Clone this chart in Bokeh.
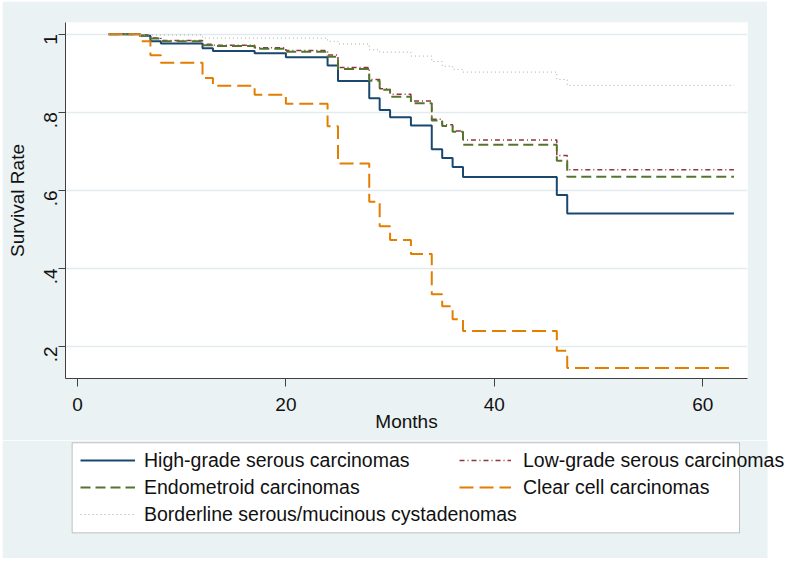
import math
from bokeh.plotting import figure
from bokeh.models import FixedTicker, Range1d, Legend, LegendItem, BoxAnnotation
from bokeh.embed import file_html
from bokeh.resources import INLINE

# ---- data ----
hg_months = [3, 6, 7, 8, 12, 13, 17, 20, 24, 25, 28, 29, 30, 32, 34, 35, 36, 37, 46, 47, 63]
hg_surv = [1, 0.996, 0.982, 0.976, 0.964, 0.957, 0.951, 0.941, 0.92, 0.88, 0.836, 0.806, 0.787,
           0.766, 0.705, 0.683, 0.66, 0.634, 0.588, 0.541, 0.541]

lg_months = [3, 6, 7, 8, 12, 13, 17, 20, 24, 25, 28, 29, 30, 32, 34, 35, 36, 37, 46, 47, 63]
lg_surv = [1, 0.998, 0.99, 0.984, 0.974, 0.972, 0.965, 0.958, 0.947, 0.915, 0.884, 0.86, 0.846,
           0.829, 0.782, 0.768, 0.752, 0.729, 0.689, 0.653, 0.653]

en_months = [3, 6, 7, 8, 12, 13, 17, 20, 24, 25, 28, 29, 30, 32, 34, 35, 36, 37, 46, 47, 63]
en_surv = [1, 0.997, 0.989, 0.982, 0.972, 0.97, 0.963, 0.955, 0.942, 0.911, 0.881, 0.858, 0.84,
           0.823, 0.779, 0.765, 0.75, 0.717, 0.676, 0.635, 0.635]

cc_months = [3, 6, 7, 8, 12, 13, 17, 20, 24, 25, 28, 29, 30, 32, 34, 35, 36, 37, 46, 47, 63]
cc_surv = [1, 0.982, 0.946, 0.927, 0.888, 0.868, 0.845, 0.822, 0.764, 0.669, 0.571, 0.508, 0.473,
           0.437, 0.334, 0.303, 0.27, 0.24, 0.189, 0.145, 0.145]

bl_months = [3, 6, 12, 24, 25, 28, 29, 32, 34, 35, 36, 37, 46, 47, 63]
bl_surv = [1, 0.998, 0.99, 0.982, 0.975, 0.96, 0.954, 0.944, 0.93, 0.918, 0.91, 0.903, 0.884,
           0.869, 0.869]

labels = ["High-grade serous carcinomas", "Low-grade serous carcinomas",
          "Endometroid carcinomas", "Clear cell carcinomas",
          "Borderline serous/mucinous cystadenomas"]

x_ticks = [0, 20, 40, 60]
y_ticks = [0.2, 0.4, 0.6, 0.8, 1]
y_tick_labels = [".2", ".4", ".6", ".8", "1"]

FONT = "Liberation Sans"
BG = "#eaf2f3"
TXT = "#111111"

styles = {
    "hg": dict(line_color="#1a476f", line_width=2),
    "lg": dict(line_color="#90353b", line_width=1.5, line_dash="5 3 1 3"),
    "en": dict(line_color="#55752f", line_width=2, line_dash="10 5"),
    "cc": dict(line_color="#e37e00", line_width=2, line_dash="14 6"),
    "bl": dict(line_color="#a8a8a8", line_width=1, line_dash="1 3"),
}
series = {
    "hg": (hg_months, hg_surv),
    "lg": (lg_months, lg_surv),
    "en": (en_months, en_surv),
    "cc": (cc_months, cc_surv),
    "bl": (bl_months, bl_surv),
}

# ---------------- main plot ----------------
p = figure(frame_width=682, frame_height=356,
           min_border_left=63, min_border_right=20, min_border_top=21, min_border_bottom=62,
           x_range=Range1d(-1.15, 64.3), y_range=Range1d(0.118, 1.030),
           output_backend="svg", toolbar_location=None,
           border_fill_color=BG, background_fill_color="white")
p.outline_line_color = None
p.margin = (1, 0, 0, 2)

for ax in (p.xaxis[0], p.yaxis[0]):
    ax.axis_line_color = "#404040"
    ax.major_tick_line_color = "#404040"
    ax.major_tick_in = 0
    ax.minor_tick_line_color = None
    ax.major_label_text_font = FONT
    ax.major_label_text_font_size = "19px"
    ax.major_label_text_color = TXT
    ax.axis_label_text_font = FONT
    ax.axis_label_text_font_size = "19px"
    ax.axis_label_text_font_style = "normal"
    ax.axis_label_text_color = TXT

p.xaxis.ticker = FixedTicker(ticks=x_ticks)
p.xaxis.major_tick_out = 8
p.xaxis.major_label_standoff = 11
p.xaxis.axis_label = "Months"
p.xaxis.axis_label_standoff = -3

p.yaxis.ticker = FixedTicker(ticks=y_ticks)
p.yaxis.major_label_overrides = dict(zip(y_ticks, y_tick_labels))
p.yaxis.major_tick_out = 7
p.yaxis.major_label_standoff = 8
p.yaxis.major_label_orientation = math.pi / 2
p.yaxis.axis_label = "Survival Rate"
p.yaxis.axis_label_standoff = 7

p.xgrid.visible = False
p.ygrid.grid_line_color = "#e2ecee"
p.ygrid.grid_line_width = 1.5

for k in ("hg", "lg", "en", "cc", "bl"):
    xs, ys = series[k]
    p.step(xs, ys, mode="after", **styles[k])

# ---------------- legend panel (separate root, no frame alignment) ----------------
LW, LH = 785, 118
q = figure(width=LW, height=LH, x_range=Range1d(0, LW), y_range=Range1d(LH, 0),
           x_axis_type=None, y_axis_type=None,
           min_border=0, min_border_left=0, min_border_right=0, min_border_top=0,
           min_border_bottom=0,
           output_backend="svg", toolbar_location=None,
           border_fill_color="white", background_fill_color="white")
q.outline_line_color = None
q.margin = (0, 0, 0, 2)
q.grid.visible = False

q.add_layout(BoxAnnotation(left=0, right=765, fill_color=BG, fill_alpha=1,
                           line_color=None, level="underlay"))
q.add_layout(BoxAnnotation(left=69.7, right=737, top=2.3, bottom=92.3,
                           fill_color="white", fill_alpha=1,
                           line_color="#444444", line_width=1, level="underlay"))

# hidden copies of the series, used only to draw the legend keys
d = {}
for k in ("hg", "lg", "en", "cc", "bl"):
    xs, ys = series[k]
    d[k] = q.line(xs, ys, visible=False, **styles[k])

common = dict(border_line_color=None, background_fill_alpha=0, padding=0, margin=0,
              spacing=3, label_height=24, glyph_height=24,
              label_text_font=FONT, label_text_font_size="19.5px",
              label_text_color=TXT, orientation="vertical")

leg1 = Legend(items=[LegendItem(label=labels[0], renderers=[d["hg"]]),
                     LegendItem(label=labels[2], renderers=[d["en"]]),
                     LegendItem(label=labels[4], renderers=[d["bl"]])],
              location=(78, 32), glyph_width=55, label_standoff=9, **common)
leg2 = Legend(items=[LegendItem(label=labels[1], renderers=[d["lg"]]),
                     LegendItem(label=labels[3], renderers=[d["cc"]])],
              location=(457, 59), glyph_width=52, label_standoff=12, **common)
q.add_layout(leg1)
q.add_layout(leg2)

open("out.html", "w").write(file_html([p, q], INLINE))
